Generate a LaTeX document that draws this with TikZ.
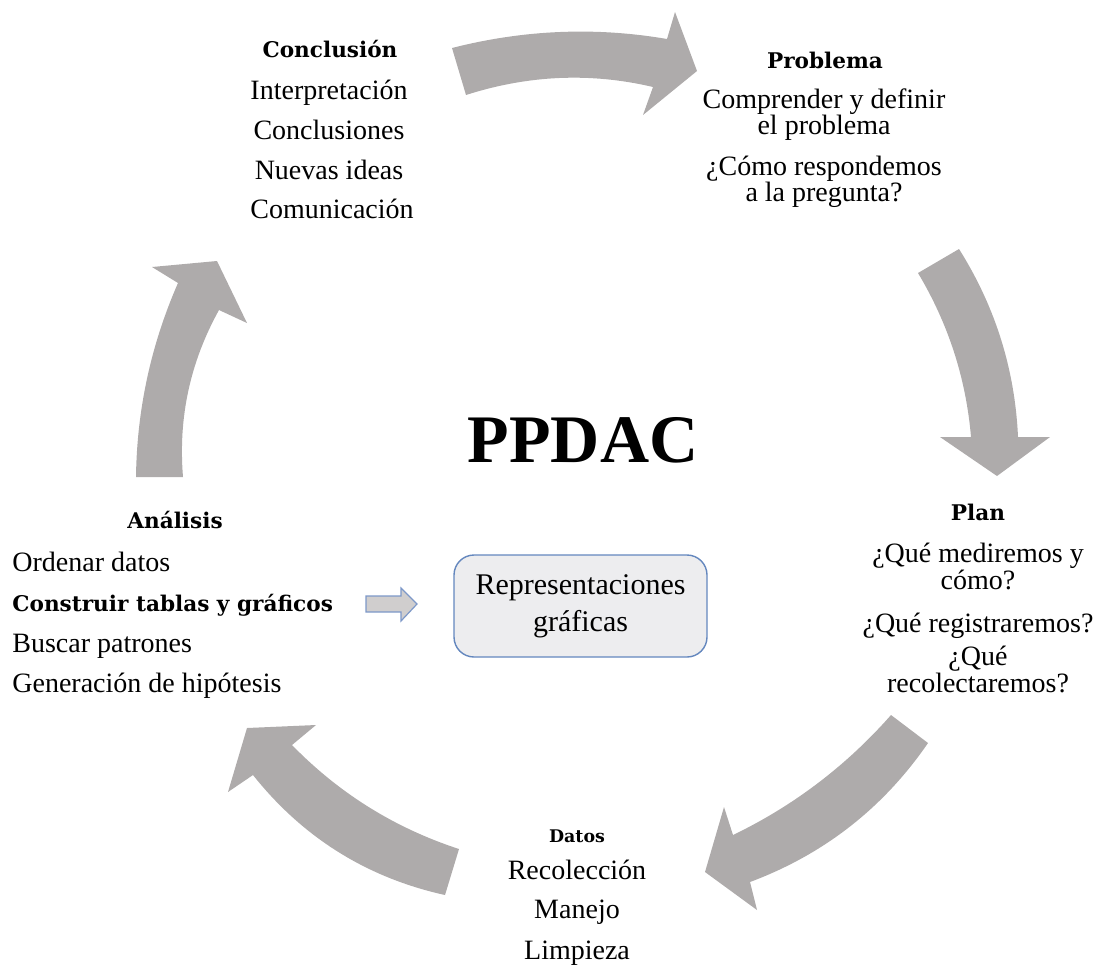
\documentclass[tikz,border=0pt]{standalone}
\usepackage{fontspec}
\setmainfont{Liberation Serif}
\newfontfamily\headfont{DejaVu Serif}

\definecolor{cyclegray}{RGB}{174,171,171}
\definecolor{boxfill}{RGB}{237,237,239}
\definecolor{boxline}{RGB}{100,135,190}
\definecolor{smallfill}{RGB}{208,206,206}
\definecolor{smallline}{RGB}{125,152,200}

\begin{document}
\begin{tikzpicture}[x=0.5pt,y=-0.5pt,
  body/.style={anchor=base,inner sep=0pt,font=\fontsize{14}{16}\selectfont},
  bodyleft/.style={body,anchor=base west},
  headfnt/.style={font=\headfont\bfseries\fontsize{10.8}{13}\selectfont},
  head/.style={anchor=base,inner sep=0pt,headfnt},
  cyc/.style={fill=cyclegray,draw=none}]
\useasboundingbox (0,0) rectangle (1101,965);

% curved block arrows of the cycle
\fill[cyc] (452,48) .. controls (523.7,29.7) and (595.3,26.7) .. (667,39)
  -- (675,12) -- (697,71) -- (643,115) -- (653,87)
  .. controls (590.7,72.3) and (528.3,75) .. (466,95) -- cycle;
\fill[cyc] (959,249) .. controls (995.2,306.5) and (1014.9,369.1) .. (1018,437)
  -- (1050,437) -- (997,476) -- (940,437) -- (971,437)
  .. controls (966,378.3) and (948.3,323.7) .. (918,273) -- cycle;
\fill[cyc] (928,743) .. controls (883.3,808) and (824,854.3) .. (750,882)
  -- (757,910) -- (705,872) -- (724,807) -- (733,835)
  .. controls (793.7,805.7) and (846.3,765.7) .. (891,715) -- cycle;
\fill[cyc] (459,849) .. controls (394.5,827.9) and (339.1,793.3) .. (292,745)
  -- (316,725) -- (247,728) -- (228,792) -- (253,775)
  .. controls (302.9,837.7) and (366.9,877.7) .. (445,895) -- cycle;
\fill[cyc] (136,477) .. controls (136.9,409.5) and (150.9,344.9) .. (178,283)
  -- (152,267) -- (217,261) -- (247,323) -- (219,310)
  .. controls (190.1,362.1) and (178.1,417.7) .. (183,477) -- cycle;

% Conclusión
\node[head] (c0) at (330,57) {Conclusión};
\node[body] (c1) at (329,99) {Interpretación};
\node[body] (c2) at (329,139) {Conclusiones};
\node[body] (c3) at (329,179) {Nuevas ideas};
\node[body] (c4) at (332,218) {Comunicación};

% Problema
\node[head] (p0) at (825,68) {Problema};
\node[body] (p1) at (824,108) {Comprender y definir};
\node[body] (p2) at (824,134) {el problema};
\node[body] (p3) at (824,175) {¿Cómo respondemos};
\node[body] (p4) at (824,201) {a la pregunta?};

% Plan
\node[head] (l0) at (978,520) {Plan};
\node[body] (l1) at (978,562) {¿Qué mediremos y};
\node[body] (l2) at (978,589) {cómo?};
\node[body] (l3) at (978,632) {¿Qué registraremos?};
\node[body] (l4) at (978,665) {¿Qué};
\node[body] (l5) at (978,692) {recolectaremos?};

% Datos
\node[head,font=\headfont\bfseries\fontsize{8.7}{10}\selectfont] (d0) at (577,842) {Datos};
\node[body] (d1) at (577,879) {Recolección};
\node[body] (d2) at (577,918) {Manejo};
\node[body] (d3) at (577,959) {Limpieza};

% Análisis
\node[head] (a0) at (175,528) {Análisis};
\node[bodyleft] (a1) at (12,571) {Ordenar datos};
\node[bodyleft,headfnt] (a2) at (12,611) {Construir tablas y gráficos};
\node[bodyleft] (a3) at (12,652) {Buscar patrones};
\node[bodyleft] (a4) at (12,692) {Generación de hipótesis};

% title
\node[anchor=base,inner sep=0pt,font=\bfseries\fontsize{34}{40}\selectfont] (title) at (583,462) {PPDAC};

% graphical representations box and its pointer
\node[draw=boxline,fill=boxfill,line width=0.7pt,rounded corners=10pt,
  minimum width=126.5pt,minimum height=51pt,inner sep=0pt,align=center,
  font=\fontsize{15}{18.5}\selectfont] (rep) at (580.5,606) {Representaciones\\gráficas};
\draw[draw=smallline,fill=smallfill,line width=0.6pt,line join=miter]
  (366,596) -- (401,596) -- (401,588) -- (417,604) -- (401,621) -- (401,612) -- (366,612) -- cycle;
\end{tikzpicture}
\end{document}
